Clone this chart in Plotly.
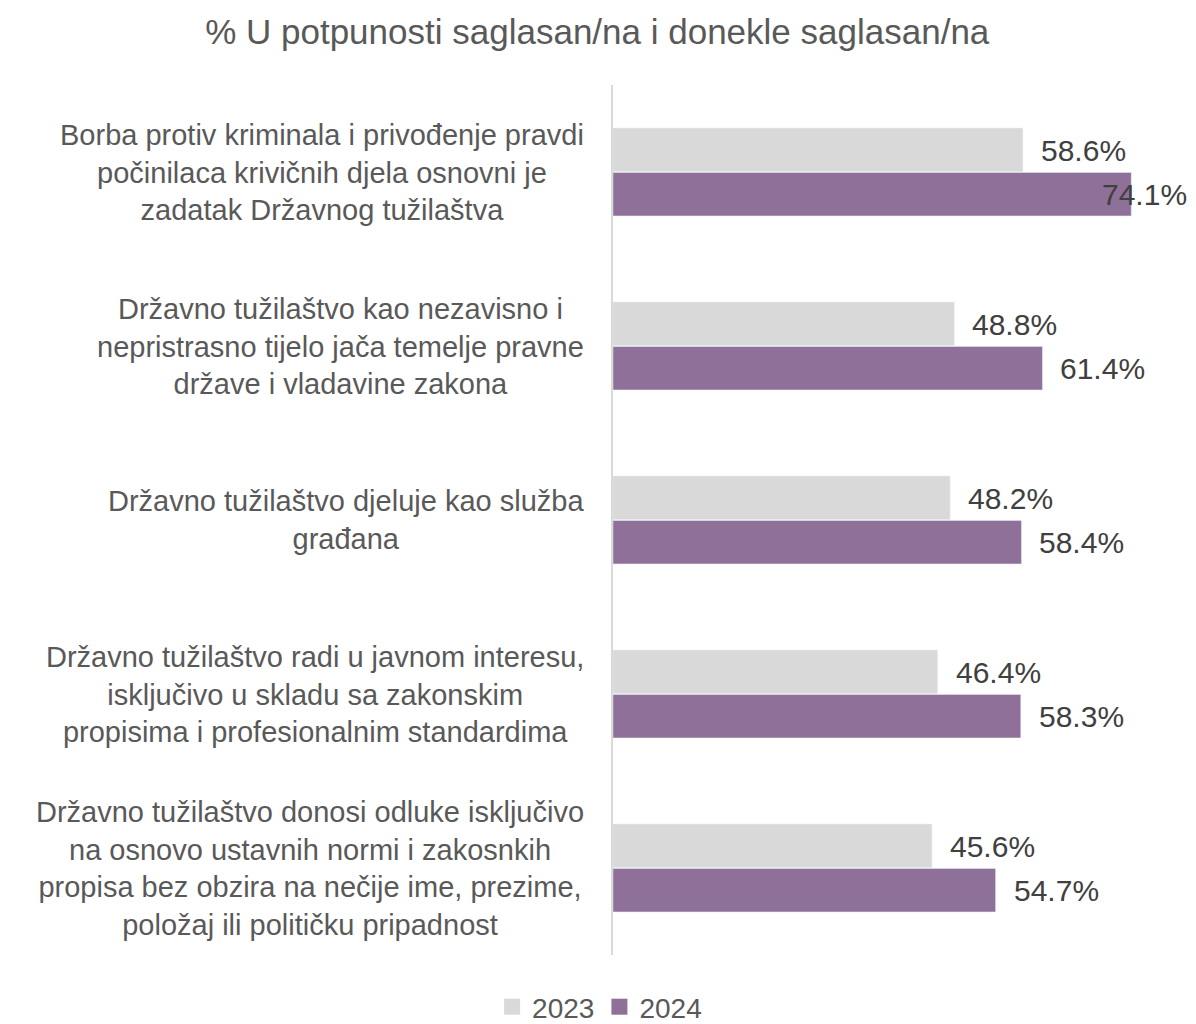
import plotly.graph_objects as go

categories = [
    "Borba protiv kriminala i privođenje pravdi<br>počinilaca krivičnih djela osnovni je<br>zadatak Državnog tužilaštva",
    "Državno tužilaštvo kao nezavisno i<br>nepristrasno tijelo jača temelje pravne<br>države i vladavine zakona",
    "Državno tužilaštvo djeluje kao služba<br>građana",
    "Državno tužilaštvo radi u javnom interesu,<br>isključivo u skladu sa zakonskim<br>propisima i profesionalnim standardima",
    "Državno tužilaštvo donosi odluke isključivo<br>na osnovo ustavnih normi i zakosnkih<br>propisa bez obzira na nečije ime, prezime,<br>položaj ili političku pripadnost",
]
values_2023 = [58.6, 48.8, 48.2, 46.4, 45.6]
values_2024 = [74.1, 61.4, 58.4, 58.3, 54.7]
series_names = ["2023", "2024"]
title_text = "% U potpunosti saglasan/na i donekle saglasan/na"

COL_2023 = "#D9D9D9"
COL_2024 = "#8F7098"
FONT = "Liberation Sans"

# page body has an 8px margin; figure is sized to fit the 1196x1024 window
W, H = 1188, 1016
ML, MR, MT, MB = 605, 6, 77, 69
XMAX = 82.5
px_per_unit = (W - ML - MR) / XMAX

keys = list(range(len(categories)))

fig = go.Figure()
fig.add_trace(go.Bar(name=series_names[0], y=keys, x=values_2023, orientation="h",
                     marker=dict(color=COL_2023), hoverinfo="skip", showlegend=False))
fig.add_trace(go.Bar(name=series_names[1], y=keys, x=values_2024, orientation="h",
                     marker=dict(color=COL_2024), hoverinfo="skip", showlegend=False))
# legend entries with larger square swatches
for nm, col in zip(series_names, (COL_2023, COL_2024)):
    fig.add_trace(go.Scatter(name=nm, x=[None], y=[None], mode="markers",
                             marker=dict(symbol="square", size=17, color=col), hoverinfo="skip"))

ann = []
# category labels
for k, c in zip(keys, categories):
    ann.append(dict(x=0, xref="paper", y=k, yref="y", text=c, showarrow=False,
                    xanchor="right", yanchor="middle", align="center", xshift=-27,
                    font=dict(family=FONT, size=29, color="#595959")))

# data labels
gap_units = 16 / px_per_unit
label_units = 90 / px_per_unit
for vals, ys in ((values_2023, 22), (values_2024, -22)):
    for k, v in zip(keys, vals):
        xpos = min(v + gap_units, XMAX - label_units)
        ann.append(dict(x=xpos, xref="x", y=k, yref="y", yshift=ys, text=f"{v:.1f}%",
                        showarrow=False, xanchor="left", yanchor="middle",
                        font=dict(family=FONT, size=30, color="#404040")))

fig.update_layout(
    width=W, height=H,
    margin=dict(l=ML, r=MR, t=MT, b=MB),
    paper_bgcolor="white", plot_bgcolor="white",
    barmode="group", bargap=0.49, bargroupgap=0.02,
    title=dict(text=title_text, x=0.496, xanchor="center", y=1 - 24 / H, yanchor="middle",
               xref="container", yref="container", font=dict(family=FONT, size=35, color="#595959")),
    xaxis=dict(range=[0, XMAX], visible=False, fixedrange=True),
    yaxis=dict(autorange="reversed", showticklabels=False, showgrid=False, zeroline=False,
               showline=True, linecolor="#D9D9D9", linewidth=2, ticks=""),
    legend=dict(orientation="h", x=0.498, xref="container", xanchor="center",
                y=1 - 999 / H, yref="container", yanchor="middle",
                font=dict(family=FONT, size=28, color="#595959"),
                traceorder="normal", itemwidth=30, itemsizing="trace"),
    annotations=ann,
    showlegend=True,
)

fig.write_html("out.html")
